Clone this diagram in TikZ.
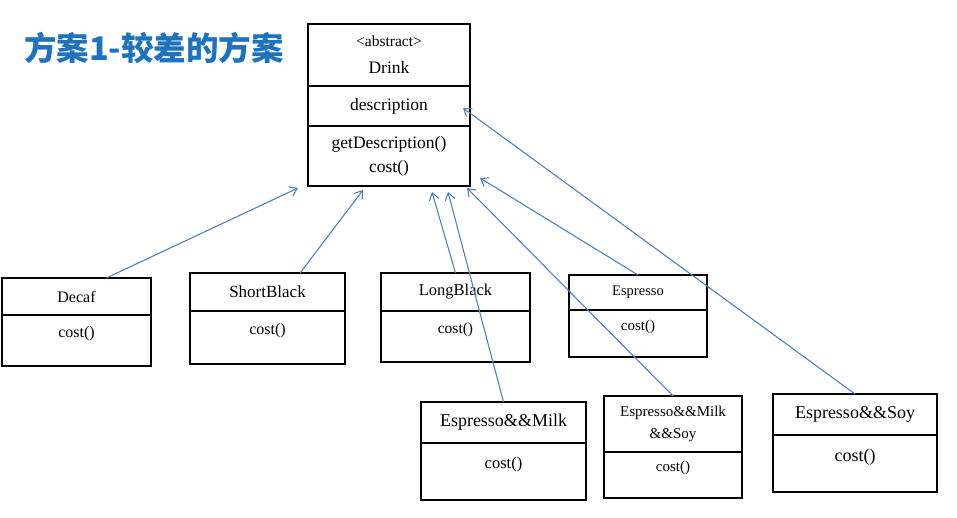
\documentclass[tikz,border=0pt]{standalone}
\usepackage{fontspec}
\setmainfont{Liberation Serif}
\newfontfamily\cjk{Noto Sans CJK SC}
\usetikzlibrary{arrows.meta,positioning,calc}
\definecolor{umlblue}{RGB}{79,129,189}
\definecolor{titleblue}{RGB}{31,115,190}

\begin{document}
\begin{tikzpicture}[x=1pt, y=-1pt,
        box/.style={draw, line width=2.2pt, inner sep=0pt, outer sep=0pt, align=center},
        body/.style={box, text depth=17pt},
        inherit/.style={draw=umlblue, line width=1.1pt, -{Straight Barb[length=7pt,width=10pt]}}]
        \useasboundingbox (0,0) rectangle (957,517);

        % Titolo
        \node[titleblue, anchor=west, inner sep=0pt, font=\cjk\bfseries\fontsize{32.5}{32.5}\selectfont] (title) at (24,48) {方案1-较差的方案};

        % Classe astratta Drink (tre compartimenti)
        \node[box, anchor=north west, minimum width=162pt, minimum height=62pt, font=\fontsize{17.5}{27}\selectfont] (drink) at (308,24) {{\fontsize{15.5}{27}\selectfont <abstract>}\\Drink};
        \node[box, below=0pt of drink, minimum width=162pt, minimum height=40pt, font=\fontsize{17.5}{24}\selectfont] (drink-a) {description};
        \node[box, below=0pt of drink-a, minimum width=162pt, minimum height=60pt, font=\fontsize{17.5}{24}\selectfont] (drink-m) {getDescription()\\cost()};

        % Sottoclassi: nome / angolo in alto a sinistra / larghezza / altezze / font
        \foreach \name/\x/\y/\w/\hh/\hb/\fs/\cf/\title in {
            decaf/2/278/149/37/51/16/16/Decaf,
            short/190/273/155/38/53/17/16/ShortBlack,
            long/381/273/149/38/51/16.5/15.5/LongBlack,
            espr/569/275/138/35/47/14.5/15/Espresso,
            milk/421/402/165/41/57/18/16.5/Espresso\&\&Milk,
            milksoy/604/396/138/56/46/15/15/Espresso\&\&Milk\\\&\&Soy,
            soy/773/394/164/41/57/18/18/Espresso\&\&Soy} {
            \node[box, anchor=north west, minimum width=\w pt, minimum height=\hh pt, font=\fontsize{\fs}{22}\selectfont] (\name) at (\x,\y) {\title};
            \node[body, below=0pt of \name, minimum width=\w pt, minimum height=\hb pt, font=\fontsize{\cf}{22}\selectfont] (\name-m) {cost()};
        }

        % Punte delle frecce (vicino a Drink)
        \coordinate (tip-decaf) at (298,188);
        \coordinate (tip-short) at (363,190);
        \coordinate (tip-long) at (432,192);
        \coordinate (tip-milk) at (448,192);
        \coordinate (tip-espr) at (480,178);
        \coordinate (tip-milksoy) at (467,188);
        \coordinate (tip-soy) at (463,108);

        % Frecce di ereditarieta'
        \draw[inherit] ($(decaf.north west)!0.7!(decaf.north east)$) -- (tip-decaf);
        \draw[inherit] ($(short.north west)!0.71!(short.north east)$) -- (tip-short);
        \draw[inherit] (long.north) -- (tip-long);
        \draw[inherit] (milk.north) -- (tip-milk);
        \draw[inherit] (espr.north) -- (tip-espr);
        \draw[inherit] (milksoy.north) -- (tip-milksoy);
        \draw[inherit] (soy.north) -- (tip-soy);
    \end{tikzpicture}
\end{document}
